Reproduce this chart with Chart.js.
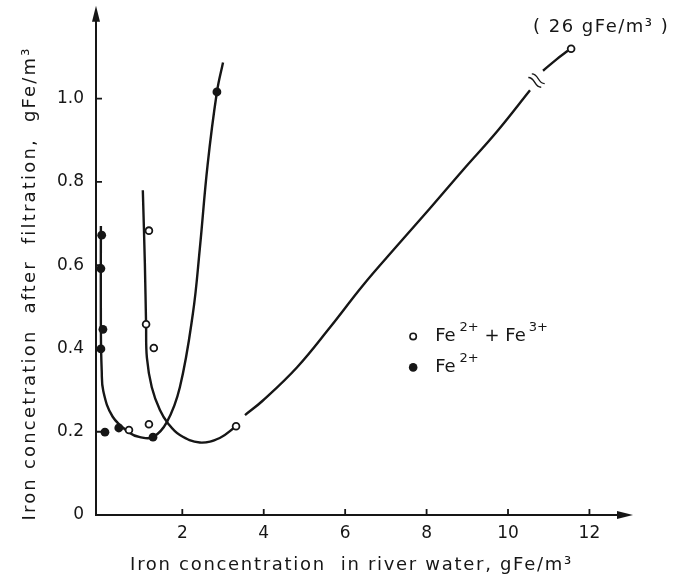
<!DOCTYPE html>
<html>
<head>
<meta charset="utf-8">
<title>Iron concentration after filtration</title>
<script src="https://cdn.jsdelivr.net/npm/chart.js@4"></script>
<style>
    html, body { margin: 0; padding: 0; background: #fff; }
    #wrap { width: 673px; height: 580px; }
</style>
</head>
<body>
<div id="wrap"><canvas id="chart" width="673" height="580"></canvas></div>
<script>
// Axis ticks
const xTicks = [2, 4, 6, 8, 10, 12];
const yTicks = [0, 0.2, 0.4, 0.6, 0.8, 1.0];

// Measured points, Fe2+ + Fe3+ (open circles)
const totalX = [0.69, 1.11, 1.18, 1.18, 1.30, 3.32, 11.55];
const totalY = [0.204, 0.458, 0.683, 0.218, 0.401, 0.213, 1.120];

// Measured points, Fe2+ (filled circles)
const ferrousX = [0.0, 0.0, 0.02, 0.05, 0.10, 0.44, 1.28, 2.85];
const ferrousY = [0.592, 0.399, 0.672, 0.446, 0.199, 0.209, 0.187, 1.016];

// Hand drawn curve through the Fe2+ points
const ferrousCurveX = [0.0, 0.0, 0.02, 0.06, 0.29, 0.71, 0.96, 1.28, 1.62, 1.94, 2.26, 2.43, 2.62, 2.85, 3.0];
const ferrousCurveY = [0.694, 0.44, 0.348, 0.297, 0.236, 0.197, 0.187, 0.187, 0.223, 0.307, 0.484, 0.64, 0.84, 1.016, 1.087];

// Hand drawn curve through the Fe2+ + Fe3+ points (lower bend, upper line, part after the axis break)
const totalCurveX = [1.03, 1.08, 1.11, 1.13, 1.25, 1.45, 1.65, 1.94, 2.43, 2.92, 3.32];
const totalCurveY = [0.78, 0.605, 0.458, 0.378, 0.307, 0.252, 0.22, 0.192, 0.174, 0.185, 0.213];
const totalLineX = [3.54, 3.98, 4.82, 5.63, 6.44, 7.27, 8.08, 8.89, 9.73, 10.54];
const totalLineY = [0.24, 0.275, 0.355, 0.451, 0.552, 0.646, 0.736, 0.828, 0.921, 1.02];
const totalTailX = [10.86, 11.2, 11.47];
const totalTailY = [1.067, 1.095, 1.115];

// Texts
const xTitle = 'Iron concentration  in river water, gFe/m³';
const yTitle = 'Iron concetration  after  filtration,  gFe/m³';
const offScaleNote = '( 26 gFe/m³ )';

const ink = '#161616';
const fontFamily = '"DejaVu Sans", "Noto Sans", sans-serif';

function pairs(xs, ys) {
    return xs.map((x, i) => ({ x: x, y: ys[i] }));
}

function curve(xs, ys) {
    return {
        data: pairs(xs, ys),
        showLine: true,
        borderColor: ink,
        borderWidth: 2.4,
        pointRadius: 0,
        tension: 0.4,
        order: 2,
    };
}

// Text with raised parts, e.g. Fe2+
function drawRich(ctx, parts, x, y) {
    parts.forEach(p => {
        ctx.font = p.sup ? `13px ${fontFamily}` : `18px ${fontFamily}`;
        ctx.fillText(p.t, x, p.sup ? y - 9 : y);
        x += ctx.measureText(p.t).width + (p.gap || 0);
    });
}

const decor = {
    id: 'decor',
    afterDraw(chart) {
        const { ctx, chartArea: a, scales: { x, y } } = chart;
        ctx.save();
        ctx.strokeStyle = ink;
        ctx.fillStyle = ink;
        ctx.lineWidth = 2;
        ctx.lineCap = 'butt';

        // axes with arrow heads
        ctx.beginPath();
        ctx.moveTo(a.left, a.bottom + 1);
        ctx.lineTo(a.left, a.top + 8);
        ctx.moveTo(a.left - 1, a.bottom);
        ctx.lineTo(a.right - 8, a.bottom);
        ctx.stroke();
        ctx.beginPath();
        ctx.moveTo(a.left, a.top);
        ctx.lineTo(a.left - 4, a.top + 16);
        ctx.lineTo(a.left + 4, a.top + 16);
        ctx.closePath();
        ctx.fill();
        ctx.beginPath();
        ctx.moveTo(a.right, a.bottom);
        ctx.lineTo(a.right - 16, a.bottom - 4);
        ctx.lineTo(a.right - 16, a.bottom + 4);
        ctx.closePath();
        ctx.fill();

        // inward tick marks
        ctx.lineWidth = 1.8;
        ctx.beginPath();
        yTicks.slice(1).forEach(v => {
            const py = y.getPixelForValue(v);
            ctx.moveTo(a.left, py);
            ctx.lineTo(a.left + 6, py);
        });
        xTicks.forEach(v => {
            const px = x.getPixelForValue(v);
            ctx.moveTo(px, a.bottom);
            ctx.lineTo(px, a.bottom - 6);
        });
        ctx.stroke();

        // axis break on the Fe2+ + Fe3+ line
        const bx = (x.getPixelForValue(totalLineX[totalLineX.length - 1]) + x.getPixelForValue(totalTailX[0])) / 2;
        const by = (y.getPixelForValue(totalLineY[totalLineY.length - 1]) + y.getPixelForValue(totalTailY[0])) / 2;
        ctx.save();
        ctx.translate(bx, by);
        ctx.rotate(-0.8);
        ctx.lineWidth = 1.4;
        [-2.5, 2.5].forEach(dx => {
            ctx.beginPath();
            ctx.moveTo(dx - 1, -8);
            ctx.bezierCurveTo(dx + 4, -3, dx - 4, 3, dx + 1, 8);
            ctx.stroke();
        });
        ctx.restore();

        // axis titles, widely spaced like the stencil lettering
        ctx.font = `18px ${fontFamily}`;
        ctx.textAlign = 'center';
        ctx.textBaseline = 'middle';
        ctx.letterSpacing = '1.7px';
        ctx.fillText(xTitle, (a.left + a.right) / 2 - 13, 565);
        ctx.save();
        ctx.translate(30, (a.top + a.bottom) / 2 + 23);
        ctx.rotate(-Math.PI / 2);
        ctx.letterSpacing = '2.2px';
        ctx.fillText(yTitle, 0, 0);
        ctx.restore();

        // note for the off-scale point
        const last = totalX.length - 1;
        ctx.letterSpacing = '1.5px';
        ctx.fillText(offScaleNote, x.getPixelForValue(totalX[last]) + 30, y.getPixelForValue(totalY[last]) - 21);
        ctx.letterSpacing = '0px';

        // legend
        const lx = x.getPixelForValue(7.67);
        const ly = y.getPixelForValue(0.429);
        ctx.textAlign = 'left';
        ctx.lineWidth = 1.6;
        ctx.beginPath();
        ctx.arc(lx, ly, 3.2, 0, Math.PI * 2);
        ctx.stroke();
        ctx.beginPath();
        ctx.arc(lx, ly + 31, 4.3, 0, Math.PI * 2);
        ctx.fill();
        drawRich(ctx, [{ t: 'Fe', gap: 4 }, { t: '2+', sup: true }, { t: ' + Fe', gap: 3 }, { t: '3+', sup: true }], lx + 22, ly);
        drawRich(ctx, [{ t: 'Fe', gap: 4 }, { t: '2+', sup: true }], lx + 22, ly + 31);

        ctx.restore();
    }
};

const tickFont = { family: fontFamily, size: 17 };

new Chart(document.getElementById('chart'), {
    type: 'scatter',
    data: {
        datasets: [
            {
                label: 'Fe2+ + Fe3+',
                data: pairs(totalX, totalY),
                pointRadius: 3.4,
                pointBorderWidth: 1.8,
                pointBackgroundColor: '#fff',
                pointBorderColor: ink,
                order: 0,
            },
            {
                label: 'Fe2+',
                data: pairs(ferrousX, ferrousY),
                pointRadius: 4.4,
                pointBorderWidth: 0,
                pointBackgroundColor: ink,
                pointBorderColor: ink,
                order: 0,
            },
            curve(ferrousCurveX, ferrousCurveY),
            curve(totalCurveX, totalCurveY),
            curve(totalLineX, totalLineY),
            curve(totalTailX, totalTailY),
        ],
    },
    options: {
        responsive: false,
        animation: false,
        layout: { padding: { top: 5, right: 40, left: 0, bottom: 0 } },
        plugins: {
            legend: { display: false },
            tooltip: { enabled: false },
        },
        scales: {
            x: {
                type: 'linear',
                min: -0.12,
                max: 13.07,
                grid: { display: false, drawTicks: false },
                border: { display: false },
                afterBuildTicks: scale => { scale.ticks = xTicks.map(v => ({ value: v })); },
                afterFit: scale => {
                    scale.height = 65;
                    scale.paddingLeft = 0;
                    scale.paddingRight = 0;
                },
                ticks: { font: tickFont, color: ink, padding: 8, maxRotation: 0, callback: v => String(v) },
            },
            y: {
                type: 'linear',
                min: 0,
                max: 1.223,
                grid: { display: false, drawTicks: false },
                border: { display: false },
                afterBuildTicks: scale => { scale.ticks = yTicks.map(v => ({ value: v })); },
                afterFit: scale => {
                    scale.width = 96;
                    scale.paddingTop = 0;
                    scale.paddingBottom = 0;
                },
                ticks: { font: tickFont, color: ink, padding: 12, callback: v => (v === 0 ? '0' : v.toFixed(1)) },
            },
        },
    },
    plugins: [decor],
});
</script>
</body>
</html>
